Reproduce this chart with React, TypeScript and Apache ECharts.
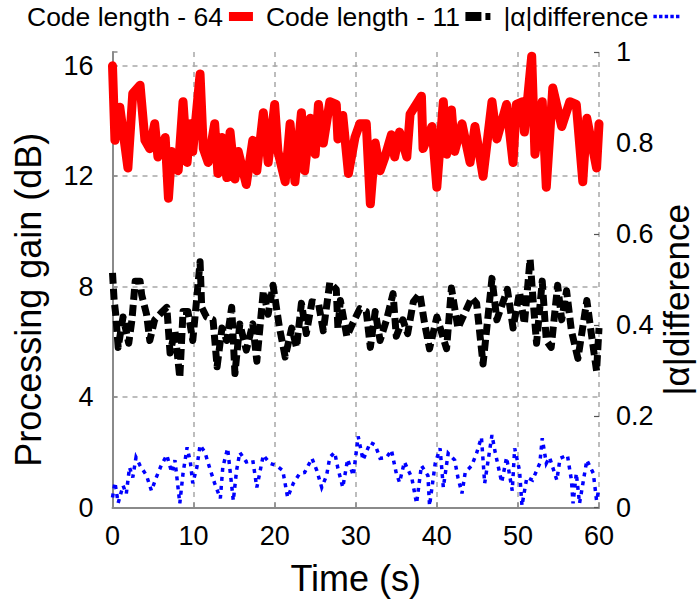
import React, { useEffect, useRef } from "react";
import * as echarts from "echarts";

// ---- Data ----
const redName = "Code length - 64";
const blackName = "Code length - 11";
const blueName = "|α|difference";

const redTimes = [0, 0.3, 0.9, 1.9, 2.5, 3.4, 4.0, 4.6, 5.2, 5.6, 6.5, 6.9, 7.3, 8.1, 8.7, 9.2, 9.6, 9.9, 10.8, 11.2, 11.8, 12.6, 13.0, 13.5, 14.1, 14.5, 15.1, 15.5, 16.5, 17.3, 17.8, 18.6, 19.2, 20.0, 20.4, 21.3, 21.9, 22.5, 23.3, 23.7, 24.4, 25.0, 25.4, 26.0, 26.8, 27.6, 27.8, 28.4, 29.1, 29.9, 30.5, 31.3, 31.8, 32.4, 33.0, 33.6, 34.4, 34.8, 35.4, 36.3, 36.7, 38.1, 38.3, 39.4, 40.0, 40.8, 41.2, 41.8, 42.2, 43.1, 44.1, 44.7, 45.7, 46.8, 47.4, 48.6, 49.4, 49.8, 50.6, 50.8, 51.7, 52.1, 53.0, 53.5, 54.3, 55.4, 56.4, 57.2, 58.0, 58.5, 59.7, 60];
const redValues = [16.0, 13.3, 14.5, 12.3, 15.0, 15.3, 13.3, 13.0, 13.9, 12.7, 13.4, 11.2, 12.9, 12.2, 14.7, 12.5, 13.9, 12.9, 15.7, 13.0, 12.5, 13.9, 12.1, 13.4, 11.95, 13.6, 11.9, 12.9, 11.7, 13.3, 12.2, 14.3, 12.5, 14.6, 12.9, 11.8, 13.9, 11.8, 14.3, 12.2, 14.1, 12.8, 14.6, 13.2, 14.7, 14.6, 13.35, 14.2, 12.1, 13.4, 13.9, 13.9, 11.0, 13.2, 12.2, 12.7, 13.5, 12.7, 13.6, 12.7, 14.25, 14.9, 13.0, 13.8, 11.6, 14.7, 12.8, 14.4, 12.9, 13.9, 12.5, 13.8, 12.0, 14.7, 13.35, 14.6, 12.5, 14.6, 14.7, 13.6, 16.35, 12.8, 14.7, 11.6, 15.2, 13.8, 14.7, 14.6, 11.8, 14.1, 12.3, 13.9];

const blackTimes = [0, 0.2, 0.4, 0.7, 1.3, 2.0, 2.4, 2.8, 3.4, 3.6, 4.2, 4.6, 5.2, 6.0, 6.7, 7.1, 7.7, 8.3, 8.7, 9.3, 9.9, 10.4, 10.8, 11.0, 11.6, 12.4, 12.9, 13.5, 14.1, 14.7, 15.1, 15.7, 16.5, 17.3, 17.8, 18.6, 19.2, 19.8, 20.6, 21.3, 22.1, 22.7, 23.3, 23.9, 24.6, 25.4, 26.0, 26.8, 27.6, 27.8, 28.1, 28.9, 29.6, 30.5, 31.3, 31.8, 32.4, 33.0, 33.8, 34.6, 35.0, 35.8, 36.4, 37.1, 37.9, 38.5, 39.1, 40.0, 41.2, 41.8, 42.6, 44.3, 44.9, 45.7, 46.8, 47.4, 48.7, 49.4, 50.2, 50.8, 51.5, 51.9, 52.3, 53.0, 53.5, 54.1, 54.9, 55.4, 56.0, 56.6, 57.4, 58.5, 59.1, 59.7, 60];
const blackValues = [8.5, 7.5, 7.0, 5.8, 6.9, 5.95, 6.8, 8.2, 8.2, 7.7, 7.0, 6.05, 6.8, 7.05, 7.25, 5.6, 6.4, 4.7, 7.1, 7.1, 6.05, 7.6, 8.9, 7.25, 6.9, 6.8, 5.1, 6.5, 6.05, 7.25, 4.85, 6.65, 5.7, 6.65, 5.3, 7.85, 7.0, 8.05, 6.5, 5.45, 6.5, 5.8, 7.4, 6.3, 7.45, 7.4, 6.4, 8.15, 7.9, 6.5, 7.5, 6.2, 6.65, 7.2, 7.1, 5.8, 7.1, 6.05, 6.8, 7.75, 6.2, 6.8, 6.3, 7.45, 7.75, 6.65, 5.75, 6.9, 5.75, 7.95, 6.5, 7.6, 7.4, 5.2, 8.3, 6.8, 7.9, 6.5, 7.8, 6.65, 9.0, 7.4, 5.95, 8.2, 6.05, 5.8, 8.05, 6.8, 7.85, 6.4, 5.4, 7.5, 6.2, 4.95, 6.5];

const blueTimes = [0, 0.3, 0.7, 1.3, 1.7, 2.1, 2.5, 2.9, 3.4, 4.2, 4.8, 5.4, 6.0, 6.7, 7.3, 7.7, 8.3, 8.7, 9.2, 9.6, 9.9, 10.4, 10.8, 11.4, 12.0, 12.6, 13.3, 13.6, 14.2, 14.9, 15.3, 15.7, 16.5, 17.3, 17.8, 18.6, 19.4, 20.2, 21.0, 21.6, 22.3, 23.1, 23.7, 24.6, 25.2, 25.8, 26.4, 26.8, 27.4, 27.8, 28.4, 29.0, 29.7, 30.3, 30.9, 31.8, 32.4, 33.0, 33.8, 34.4, 35.0, 35.4, 36.0, 36.9, 37.5, 38.1, 38.9, 39.1, 39.8, 40.4, 40.8, 41.4, 42.2, 42.6, 43.1, 43.5, 44.3, 44.9, 45.5, 45.9, 46.8, 47.2, 48.0, 48.6, 49.3, 49.6, 50.2, 50.5, 51.1, 51.8, 52.7, 53.0, 53.5, 53.9, 54.8, 55.2, 56.1, 56.6, 56.8, 57.2, 57.6, 58.5, 59.3, 59.7, 60];
const blueValues = [0.022, 0.055, 0.01, 0.048, 0.03, 0.088, 0.066, 0.11, 0.092, 0.07, 0.037, 0.066, 0.092, 0.115, 0.077, 0.104, 0.009, 0.075, 0.132, 0.1, 0.053, 0.088, 0.137, 0.121, 0.086, 0.053, 0.02, 0.088, 0.13, 0.015, 0.081, 0.121, 0.1, 0.104, 0.044, 0.115, 0.097, 0.092, 0.081, 0.022, 0.053, 0.075, 0.077, 0.108, 0.081, 0.044, 0.07, 0.11, 0.121, 0.086, 0.044, 0.106, 0.07, 0.156, 0.104, 0.143, 0.137, 0.108, 0.11, 0.126, 0.075, 0.055, 0.1, 0.066, 0.009, 0.092, 0.07, 0.004, 0.097, 0.13, 0.044, 0.119, 0.104, 0.066, 0.031, 0.077, 0.092, 0.119, 0.154, 0.053, 0.159, 0.121, 0.055, 0.11, 0.037, 0.13, 0.081, 0.004, 0.066, 0.06, 0.097, 0.152, 0.097, 0.11, 0.06, 0.108, 0.115, 0.06, 0.009, 0.075, 0.009, 0.104, 0.075, 0.015, 0.042];

const xTitle = "Time (s)";
const leftTitle = "Processing gain (dB)";
const rightTitle = "|α|difference";

const zip = (ts: number[], vs: number[]) => ts.map((t, i) => [t, vs[i]]);

const FONT = "'Liberation Sans', Arial, sans-serif";
const GRID_LINE = { color: "#a8a8a8", type: [5, 5] as any, width: 1.5 };
const AXIS_GRAY = "#8a8a8a";

export default function App() {
  const ref = useRef<HTMLDivElement>(null);

  useEffect(() => {
    if (!ref.current) return;
    const chart = echarts.init(ref.current, null, { renderer: "svg" });
    chart.setOption({
      animation: false,
      backgroundColor: "#ffffff",
      textStyle: { fontFamily: FONT },
      legend: {
        left: 27,
        top: 3,
        padding: 0,
        itemGap: 13,
        itemWidth: 26,
        itemHeight: 9,
        align: "right",
        selectedMode: false,
        textStyle: { fontSize: 26.5, color: "#000", fontFamily: FONT },
        data: [
          { name: redName, icon: "path://M0,0H24V9H0Z" },
          { name: blackName, icon: "path://M0,0H16V9H0ZM20,1H25V8H20Z" },
          {
            name: blueName,
            icon: "path://M0,0H3V3H0ZM5,0H8V3H5ZM10,0H13V3H10ZM15,0H18V3H15ZM20,0H23V3H20Z",
          },
        ],
      },
      grid: {
        left: 112.5,
        right: 99,
        top: 52,
        bottom: 92.5,
        containLabel: false,
        outerBoundsMode: "none",
      },
      xAxis: {
        type: "value",
        min: 0,
        max: 60,
        interval: 10,
        name: xTitle,
        nameLocation: "middle",
        nameGap: 53,
        nameMoveOverlap: false,
        nameTextStyle: { fontSize: 36, color: "#000", fontFamily: FONT },
        axisLine: { lineStyle: { color: AXIS_GRAY, width: 2 } },
        axisTick: { inside: true, length: 5, lineStyle: { color: AXIS_GRAY, width: 1.5 } },
        axisLabel: { fontSize: 27, color: "#000", margin: 15, fontFamily: FONT },
        splitLine: { show: true, lineStyle: GRID_LINE },
      },
      yAxis: [
        {
          type: "value",
          min: 0,
          max: 16.5,
          interval: 4,
          name: leftTitle,
          nameLocation: "middle",
          nameRotate: 90,
          nameGap: 66,
          nameMoveOverlap: false,
          nameTextStyle: { fontSize: 36, color: "#000", fontFamily: FONT, padding: [0, 40, 0, 0] },
          axisLine: { show: true, lineStyle: { color: AXIS_GRAY, width: 2 } },
          axisTick: { inside: true, length: 5, lineStyle: { color: AXIS_GRAY, width: 1.5 } },
          axisLabel: {
            fontSize: 27,
            color: "#000",
            margin: 19,
            fontFamily: FONT,
            formatter: (v: number) => (v % 4 === 0 ? String(v) : ""),
          },
          splitLine: { show: true, showMinLine: false, showMaxLine: false, lineStyle: GRID_LINE },
        },
        {
          type: "value",
          position: "right",
          min: 0,
          max: 1,
          interval: 0.2,
          name: rightTitle,
          nameLocation: "middle",
          nameRotate: 90,
          nameGap: 60,
          nameMoveOverlap: false,
          nameTextStyle: { fontSize: 35, color: "#000", fontFamily: FONT, padding: [0, 40, 0, 0] },
          axisLine: { show: false },
          axisTick: { show: true, inside: true, length: 5, lineStyle: { color: "#555", width: 1.2 } },
          axisLabel: { fontSize: 27, color: "#000", margin: 17, fontFamily: FONT },
          splitLine: { show: false },
        },
      ],
      series: [
        {
          name: blueName,
          type: "line",
          yAxisIndex: 1,
          data: zip(blueTimes, blueValues),
          showSymbol: false,
          symbol: "none",
          color: "#0000ff",
          lineStyle: { color: "#0000ff", width: 3.5, type: [4, 5], cap: "butt", join: "miter" },
          z: 3,
        },
        {
          name: blackName,
          type: "line",
          yAxisIndex: 0,
          data: zip(blackTimes, blackValues),
          showSymbol: false,
          symbol: "none",
          color: "#000000",
          lineStyle: { color: "#000000", width: 7, type: [11, 5], cap: "butt", join: "round" },
          z: 4,
        },
        {
          name: redName,
          type: "line",
          yAxisIndex: 0,
          data: zip(redTimes, redValues),
          showSymbol: false,
          symbol: "none",
          color: "#ff0000",
          lineStyle: { color: "#ff0000", width: 9, cap: "round", join: "round" },
          z: 5,
        },
      ],
    });
    return () => chart.dispose();
  }, []);

  return (
    <div
      ref={ref}
      style={{ position: "absolute", left: 0, top: 0, width: 698, height: 600, background: "#fff" }}
    />
  );
}
